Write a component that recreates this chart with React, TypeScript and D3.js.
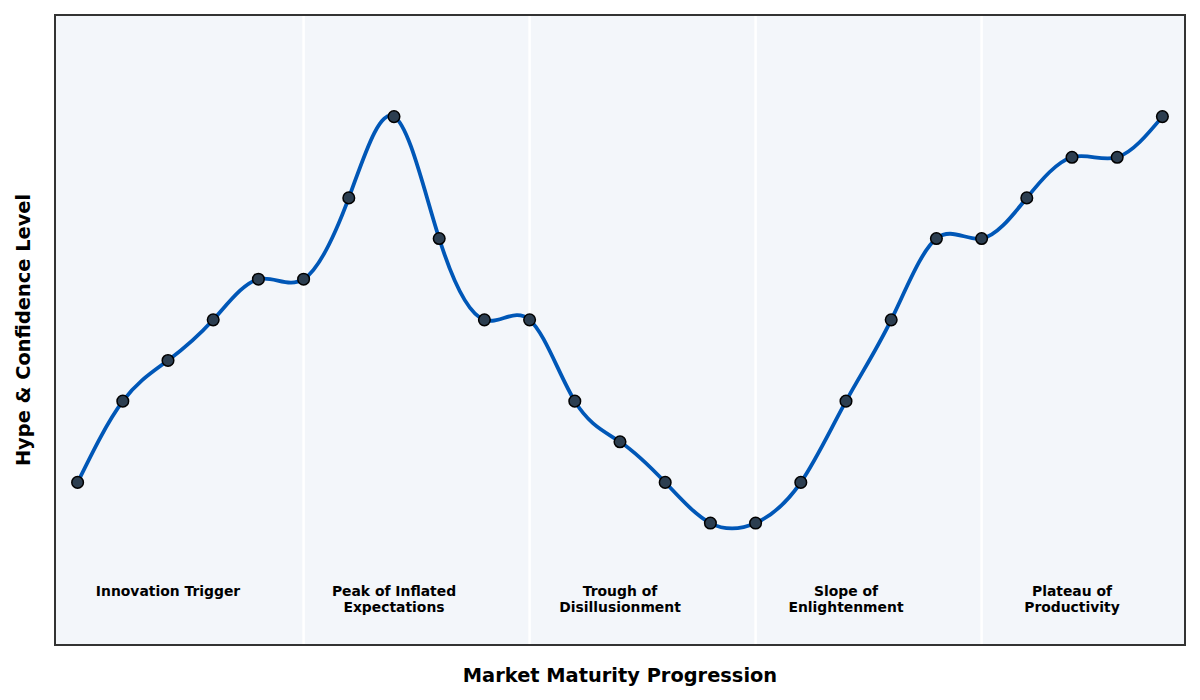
import React from 'react';
import * as d3 from 'd3';

const WIDTH = 1200;
const HEIGHT = 700;
const MARGIN = { top: 15, right: 15, bottom: 55, left: 55 };

// hype level per time step
const hype = [3, 5, 6, 7, 8, 8, 10, 12, 9, 7, 7, 5, 4, 3, 2, 2, 3, 5, 7, 9, 9, 10, 11, 11, 12];
const phaseBounds = [5, 10, 15, 20];
const phaseCenters = [2, 7, 12, 17, 22];
const phaseLabels = [
  ['Innovation Trigger'],
  ['Peak of Inflated', 'Expectations'],
  ['Trough of', 'Disillusionment'],
  ['Slope of', 'Enlightenment'],
  ['Plateau of', 'Productivity'],
];

const App: React.FC = () => {
  const innerW = WIDTH - MARGIN.left - MARGIN.right;
  const innerH = HEIGHT - MARGIN.top - MARGIN.bottom;

  const x = d3.scaleLinear().domain([-0.5, hype.length - 0.5]).range([0, innerW]);
  const y = d3.scaleLinear().domain([-1, 14.5]).range([innerH, 0]);

  const line = d3
    .line<number>()
    .x((_, i) => x(i))
    .y((d) => y(d))
    .curve(d3.curveNatural);

  const font = 'DejaVu Sans, sans-serif';

  return (
    <svg width={WIDTH} height={HEIGHT} style={{ position: 'absolute', left: 0, top: 0 }}>
      <rect width={WIDTH} height={HEIGHT} fill="#fff" />
      <g transform={`translate(${MARGIN.left},${MARGIN.top})`}>
        <rect width={innerW} height={innerH} fill="#f3f6fa" />
        {phaseBounds.map((b) => (
          <line key={b} x1={x(b)} x2={x(b)} y1={0} y2={innerH} stroke="#fff" strokeWidth={2.5} />
        ))}
        <path d={line(hype) ?? ''} fill="none" stroke="#0057b7" strokeWidth={3.8} />
        {hype.map((v, i) => (
          <circle key={i} cx={x(i)} cy={y(v)} r={5.8} fill="#2c3e50" stroke="#000" strokeWidth={1.5} />
        ))}
        {phaseLabels.map((lines, k) => (
          <text
            key={k}
            x={x(phaseCenters[k])}
            y={596 - MARGIN.top}
            textAnchor="middle"
            fontFamily={font}
            fontWeight="bold"
            fontSize={13.9}
            fill="#000"
          >
            {lines.map((t, j) => (
              <tspan key={j} x={x(phaseCenters[k])} dy={j === 0 ? 0 : 16}>
                {t}
              </tspan>
            ))}
          </text>
        ))}
        <rect width={innerW} height={innerH} fill="none" stroke="#333" strokeWidth={2} />
      </g>
      <text
        x={MARGIN.left + innerW / 2}
        y={682}
        textAnchor="middle"
        fontFamily={font}
        fontWeight="bold"
        fontSize={19.4}
      >
        Market Maturity Progression
      </text>
      <text
        transform={`translate(30,${MARGIN.top + innerH / 2}) rotate(-90)`}
        textAnchor="middle"
        fontFamily={font}
        fontWeight="bold"
        fontSize={19.4}
      >
        Hype &amp; Confidence Level
      </text>
    </svg>
  );
};

export default App;
